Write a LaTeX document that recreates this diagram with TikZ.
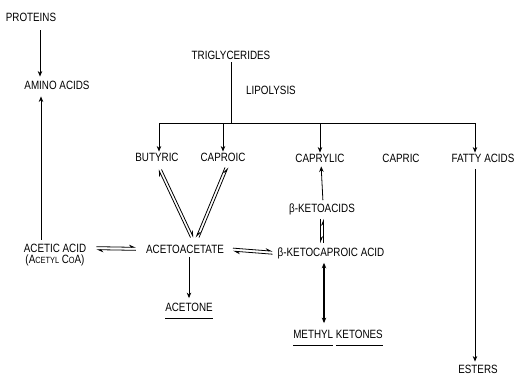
\documentclass[tikz,border=0pt]{standalone}
\usepackage{fontspec}
\setmainfont{Liberation Sans}[FakeStretch=0.82]
\usetikzlibrary{arrows.meta, positioning, calc}
\newcommand\ulword[1]{\underline{\raisebox{0pt}[\height][5pt]{#1}}}

\begin{document}
\begin{tikzpicture}[
  x=1pt, y=-1pt,
  font=\fontsize{12}{14}\selectfont,
  >={Stealth[length=5.5pt, width=4.5pt]},
  every node/.style={inner sep=1pt, align=center},
  arr/.style={->, thick},
  fw/.style={-{Stealth[harpoon, length=6pt, width=5pt]}, thick},
  bk/.style={{Stealth[harpoon, length=6pt, width=5pt]}-, thick},
  heavy/.style={<->, line width=2pt},
]
\useasboundingbox (0,0) rectangle (521,378);
% left column
\node (prot)   at (31,17)  {PROTEINS};
\node (amino)  at (57,85)  {AMINO ACIDS};
\node (acetic) at (55,248) {ACETIC ACID};
\node[below=0pt of acetic] (acoa)
  {(A{\fontsize{9}{10}\selectfont CETYL} C{\fontsize{9}{10}\selectfont O}A)};
% lipolysis branch
\node (trig)   at (231,55) {TRIGLYCERIDES};
\node (lipo)   at (271,90) {LIPOLYSIS};
\node (but)    at (157,157) {BUTYRIC};
\node (capro)  at (223,157) {CAPROIC};
\node (capryl) at (320,158) {CAPRYLIC};
\node (capric) at (401,158) {CAPRIC};
\node (fatty)  at (483,158) {FATTY ACIDS};
% middle row
\node (keto)   at (322,209) {β-KETOACIDS};
\node (aceto)  at (185,249) {ACETOACETATE};
\node (kcap)   at (331,253) {β-KETOCAPROIC ACID};
% products
\node (acetone) at (189,311) {\ulword{ACETONE}};
\node (methyl)  at (338,338) {\ulword{METHYL}\ \ulword{KETONES}};
\node (esters)  at (478,369) {ESTERS};

\coordinate (barL) at (159,123);
\coordinate (barR) at (475,123);

\draw[arr] ([xshift=9pt, yshift=-8pt]prot.south) -- ([xshift=-17pt, yshift=3pt]amino.north);
\draw[arr] ([xshift=-14pt, yshift=3pt]acetic.north) -- ([xshift=-16pt, yshift=-6pt]amino.south);
\draw[thick] ([yshift=-2pt]trig.south) -- (trig.south |- barL);
\draw[thick] (barL) -- (barR);
\draw[arr] (barL) -- (barL |- but.north);
\draw[arr] (capro.north |- barL) -- (capro.north);
\draw[arr] (capryl.north |- barL) -- (capryl.north);
\draw[arr] (barR) -- (barR |- fatty.north);
\draw[arr] ([yshift=-6pt]barR |- fatty.south) -- ([yshift=2pt]barR |- esters.north);
% equilibria
\draw[bk] ([xshift=1.5pt, yshift=-7pt]but.south) -- ([xshift=5.5pt, yshift=6pt]aceto.north);
\draw[fw] ([xshift=4.5pt, yshift=-7pt]but.south) -- ([xshift=8.5pt, yshift=6pt]aceto.north);
\draw[fw] ([xshift=2pt, yshift=-5pt]capro.south) -- ([xshift=11pt, yshift=6pt]aceto.north);
\draw[bk] ([xshift=5pt, yshift=-5pt]capro.south) -- ([xshift=14pt, yshift=6pt]aceto.north);
\draw[fw, shorten <=9pt, shorten >=9pt] ([yshift=1.5pt]acetic.east) -- ([yshift=1.5pt]aceto.west);
\draw[bk, shorten <=9pt, shorten >=9pt] ([yshift=-1.5pt]acetic.east) -- ([yshift=-1.5pt]aceto.west);
\draw[fw, shorten <=8pt, shorten >=4pt] ([yshift=1.5pt]aceto.east) -- ([yshift=1.5pt]kcap.west);
\draw[bk, shorten <=8pt, shorten >=4pt] ([yshift=-1.5pt]aceto.east) -- ([yshift=-1.5pt]kcap.west);
\draw[arr, shorten <=2pt, shorten >=3pt] ([xshift=1pt]keto.north) -- ([xshift=1pt]capryl.south);
\draw[fw, shorten <=3pt, shorten >=3pt] ([xshift=-1.5pt]keto.south) -- ([xshift=-10.5pt]kcap.north);
\draw[bk, shorten <=3pt, shorten >=3pt] ([xshift=1.5pt]keto.south) -- ([xshift=-7.5pt]kcap.north);
\draw[heavy, shorten <=3pt, shorten >=6pt] ([xshift=-7pt]kcap.south) -- ([xshift=-14pt]methyl.north);
\draw[arr, shorten <=3pt, shorten >=4pt] ([xshift=4pt]aceto.south) -- (acetone.north);
\end{tikzpicture}
\end{document}
